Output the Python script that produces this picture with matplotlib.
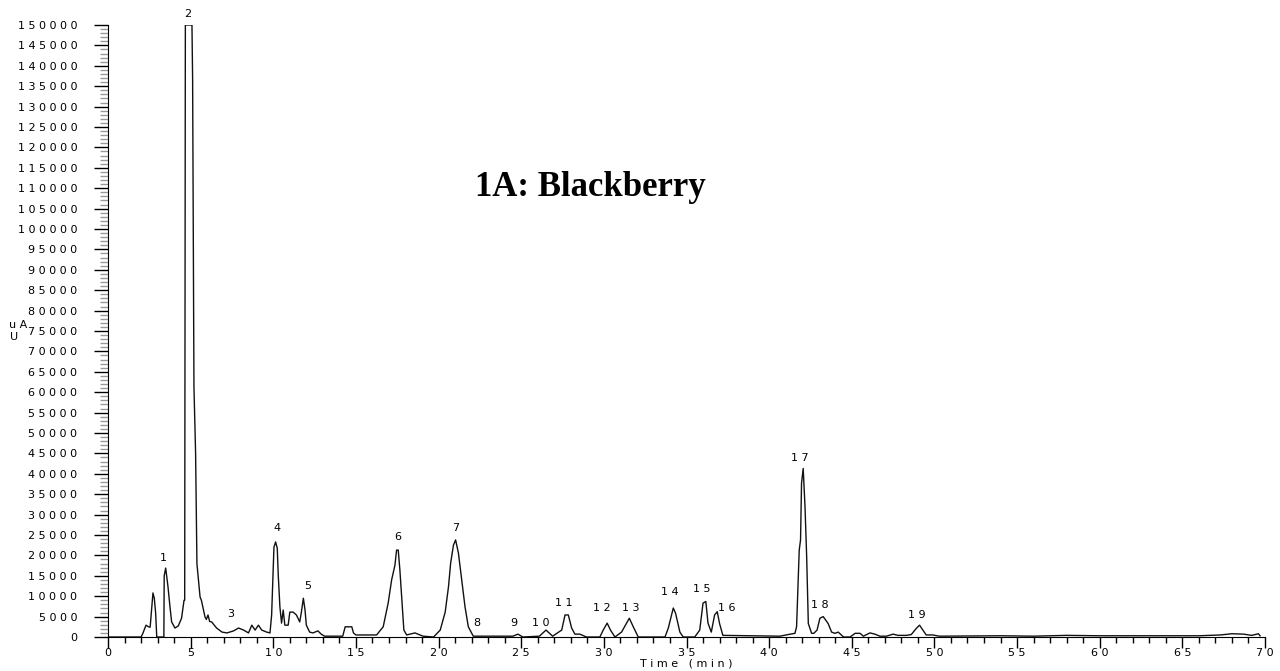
import numpy as np
import matplotlib
matplotlib.use('Agg')
import matplotlib.pyplot as plt
from matplotlib.ticker import MultipleLocator, FuncFormatter

# retention time (min) and detector signal (uA)
times = [0.0, 2.0, 2.1, 2.3, 2.45, 2.55, 2.62, 2.72, 2.8, 2.88, 2.95,
         3.38, 3.4, 3.49, 3.63, 3.75, 3.85, 4.05, 4.25, 4.45, 4.6, 4.64,
         4.68, 5.08, 5.12, 5.2, 5.3, 5.38, 5.57, 5.65, 5.87, 5.95, 6.05,
         6.15, 6.27, 6.57, 6.9, 7.2, 7.6, 7.9, 8.2, 8.5, 8.7, 8.9, 9.1,
         9.3, 9.6, 9.8, 9.9, 10.04, 10.14, 10.24, 10.3, 10.4, 10.5, 10.6,
         10.7, 10.9, 11.0, 11.2, 11.4, 11.6, 11.7, 11.82, 11.92, 12.0,
         12.2, 12.4, 12.7, 12.9, 13.1, 14.2, 14.35, 14.75, 14.85, 15.0,
         16.25, 16.65, 16.95, 17.16, 17.36, 17.46, 17.56, 17.66, 17.77,
         17.9, 18.07, 18.57, 19.06, 19.7, 20.1, 20.4, 20.6, 20.73, 20.9,
         21.03, 21.2, 21.4, 21.6, 21.8, 22.1, 24.5, 24.8, 25.1, 26.1,
         26.5, 26.9, 27.45, 27.65, 27.85, 28.05, 28.25, 28.55, 28.95,
         29.76, 29.96, 30.2, 30.4, 30.67, 31.07, 31.54, 31.78, 32.08,
         33.7, 33.9, 34.2, 34.34, 34.6, 34.8, 35.5, 35.8, 36.0, 36.17,
         36.3, 36.5, 36.7, 36.86, 37.0, 37.2, 40.65, 41.15, 41.56, 41.66,
         41.82, 41.9, 41.96, 42.06, 42.17, 42.27, 42.37, 42.57, 42.7,
         42.9, 43.07, 43.27, 43.57, 43.78, 43.98, 44.18, 44.5, 44.9,
         45.2, 45.5, 45.7, 46.1, 46.4, 46.7, 47.1, 47.5, 47.8, 48.3,
         48.6, 48.9, 49.1, 49.3, 49.5, 49.9, 50.3, 54.0, 56.0, 58.0,
         60.0, 63.0, 66.0, 67.3, 68.0, 68.7, 69.2, 69.6, 69.7]
signal = [0, 0, 800, 2900, 2500, 2400, 6000, 10800, 9500, 6000, 0,
          0, 15000, 16900, 12300, 7400, 3700, 2200, 2700, 4600, 9000, 9000,
          150000, 150000, 136500, 61300, 45000, 18000, 9800, 9000, 4900, 4300, 5400,
          3800, 3700, 2200, 1200, 1000, 1500, 2200, 1700, 1000, 2900, 1700, 2900,
          1700, 1200, 1000, 5400, 22000, 23300, 21800, 15200, 7400, 3400, 6600,
          2900, 2900, 6100, 6100, 5400, 3700, 6100, 9500, 6600, 2900,
          1200, 1000, 1500, 700, 200, 200, 2500, 2500, 1000, 500,
          500, 2500, 8300, 14000, 17600, 21300, 21300, 16400, 9800,
          1700, 500, 1000, 200, 0, 1700, 6100, 12300, 18100, 22500,
          23800, 20600, 14000, 7400, 2500, 200, 200, 700, 0, 200,
          1700, 200, 1700, 5400, 5400, 2200, 700, 700, 0,
          0, 1700, 3400, 1700, 0, 1200, 4600, 2500, 0,
          0, 2200, 7100, 5800, 1200, 0, 0, 1700, 8300, 8700,
          3400, 1200, 5400, 6200, 3300, 400, 200, 600, 900, 2500,
          21300, 23800, 37700, 41300, 31900, 19700, 3300, 900, 900,
          1700, 4600, 5000, 3300, 1200, 900, 1200, 0, 0,
          900, 900, 200, 1000, 700, 200, 200, 700, 400, 400,
          600, 2100, 2900, 1700, 500, 500, 200, 300, 200, 400,
          300, 300, 300, 500, 800, 700, 400, 800, 300]

# peak numbers and where their labels sit
peak_labels = ['1', '2', '3', '4', '5', '6', '7', '8', '9', '1 0',
               '1 1', '1 2', '1 3', '1 4', '1 5', '1 6', '1 7', '1 8', '1 9']
peak_t = [3.33, 4.84, 7.44, 10.2, 12.08, 17.56, 21.05, 22.3, 24.56, 26.2,
          27.55, 29.87, 31.62, 34.0, 35.92, 37.43, 41.86, 43.07, 48.92]
peak_y = [18100, 151500, 4400, 25500, 11300, 23300, 25400, 2300, 2300, 2300,
          7000, 6000, 6000, 9700, 10500, 6000, 42700, 6600, 4200]

spaced = FuncFormatter(lambda v, pos: ' '.join(str(int(round(v)))))

fig = plt.figure(figsize=(12.8, 6.71), dpi=100)
ax = fig.add_axes([108/1280, 34/671, 1157/1280, 612/671])

ax.plot(times, signal, color='#111111', linewidth=1.0)

for lab, t, y in zip(peak_labels, peak_t, peak_y):
    ax.text(t, y, lab, ha='center', va='bottom', fontsize=8, clip_on=False)

ax.set_xlim(0, 70)
ax.set_ylim(0, 150000)
ax.spines['top'].set_visible(False)
ax.spines['right'].set_visible(False)

ax.xaxis.set_major_locator(MultipleLocator(5))
ax.xaxis.set_minor_locator(MultipleLocator(1))
ax.yaxis.set_major_locator(MultipleLocator(5000))
ax.yaxis.set_minor_locator(MultipleLocator(1000))
ax.xaxis.set_major_formatter(spaced)
ax.yaxis.set_major_formatter(spaced)

ax.tick_params(axis='y', which='major', length=10, width=1, labelsize=8, pad=12)
ax.tick_params(axis='y', which='minor', length=6, width=1, color='#999999')
ax.tick_params(axis='x', which='major', length=8, width=1, labelsize=8, pad=0)
ax.tick_params(axis='x', which='minor', length=4, width=1)

ax.set_xlabel('T i m e   ( m i n )', fontsize=8, labelpad=0)
fig.text(9/1280, 1 - 325/671, 'u A', fontsize=8, va='center', ha='left')
fig.text(10/1280, 1 - 337/671, 'U', fontsize=8, va='center', ha='left')

ax.text(0.417, 0.735, '1A: Blackberry', transform=ax.transAxes, ha='center', va='center',
        fontsize=25, fontweight='bold', family='Liberation Serif')

fig.savefig('out.png', dpi=100)
